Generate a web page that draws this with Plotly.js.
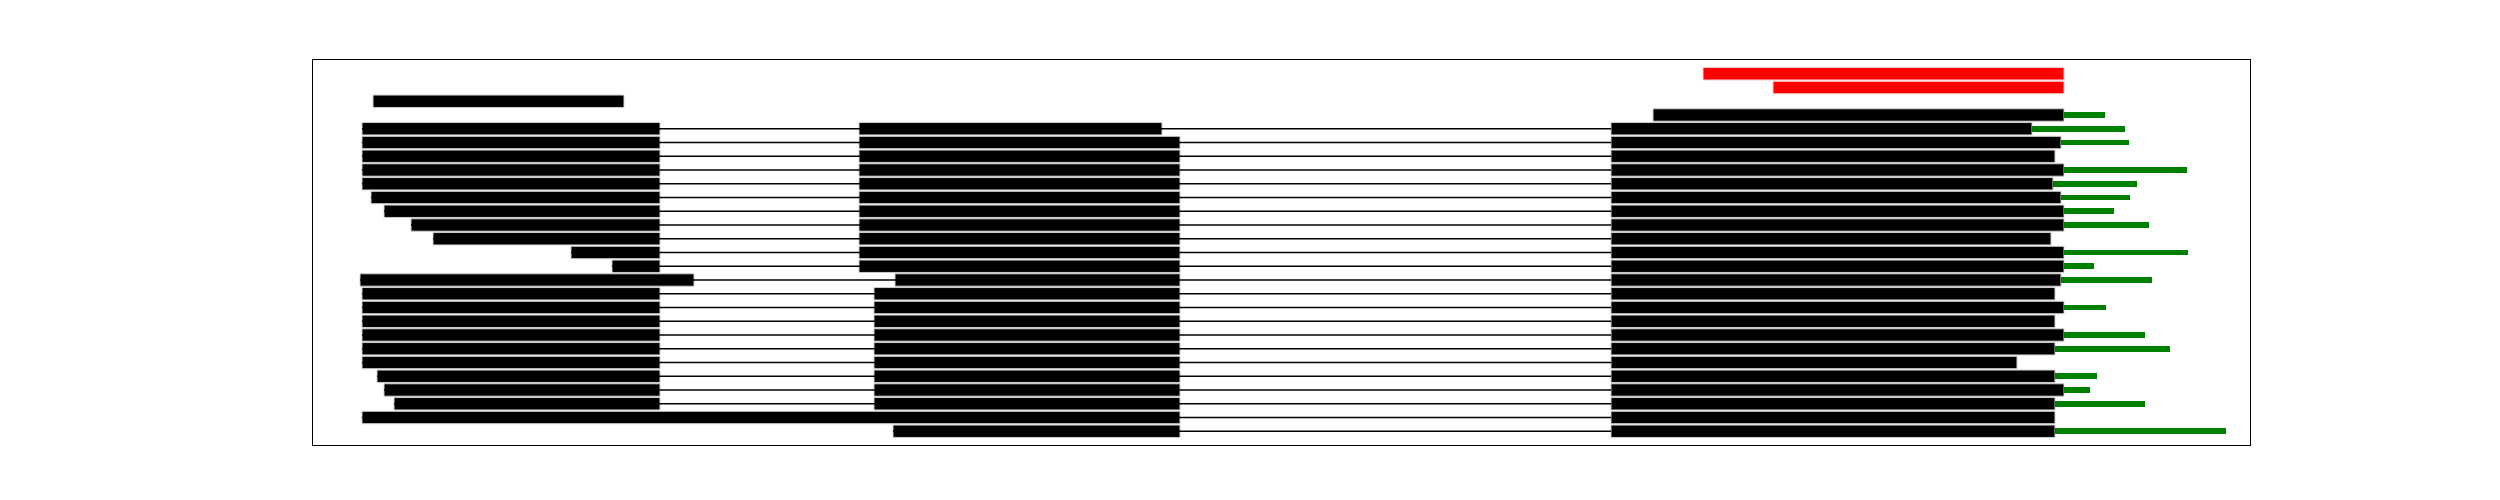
<!DOCTYPE html>
<html>
<head>
<meta charset="utf-8">
<script src="https://cdn.plot.ly/plotly-3.0.1.min.js"></script>
<style>html,body{margin:0;padding:0;background:#fff;}</style>
</head>
<body>
<div id="chart" style="width:2500px;height:500px;"></div>
<script>
// Row index 0 = top row
const rows = Array.from({length: 27}, (_, i) => i);

// Phase 1 (left block)
const leftStart = [null,null,60,null,49,49,49,49,49,58,71,98,120,258,299,47,49,49,49,49,49,49,64,71,81,49,null];
const leftEnd   = [null,null,311,null,347,347,347,347,347,347,347,347,347,347,347,381,347,347,347,347,347,347,347,347,347,867,null];

// Phase 2 (middle block)
const midStart = [null,null,null,null,546,546,546,546,546,546,546,546,546,546,546,582,561,561,561,561,561,561,561,561,561,null,580];
const midEnd   = [null,null,null,null,849,867,867,867,867,867,867,867,867,867,867,867,867,867,867,867,867,867,867,867,867,null,867];

// Phase 3 (right block)
const rightStart = [null,null,null,1340,1298,1298,1298,1298,1298,1298,1298,1298,1298,1298,1298,1298,1298,1298,1298,1298,1298,1298,1298,1298,1298,1298,1298];
const rightEnd   = [null,null,null,1751,1719,1748,1742,1751,1740,1748,1751,1751,1738,1751,1751,1748,1742,1751,1742,1751,1742,1704,1742,1751,1742,1742,1742];

// Highlighted (red) rows
const redStart = [1390,1460,null,null,null,null,null,null,null,null,null,null,null,null,null,null,null,null,null,null,null,null,null,null,null,null,null];
const redEnd   = [1751,1751,null,null,null,null,null,null,null,null,null,null,null,null,null,null,null,null,null,null,null,null,null,null,null,null,null];

// Extension (green) end; starts at rightEnd
const greenEnd = [null,null,null,1792,1812,1816,null,1874,1824,1817,1801,1836,null,1875,1781,1839,null,1793,null,1832,1857,null,1784,1777,1832,null,1913];

function barTrace(starts, ends, color, width, edge) {
  const y = [], base = [], x = [];
  rows.forEach(i => {
    if (starts[i] != null && ends[i] != null) {
      y.push(i); base.push(starts[i]); x.push(ends[i] - starts[i]);
    }
  });
  return {
    type: 'bar', orientation: 'h', y: y, base: base, x: x, width: width,
    marker: {color: color, line: {color: edge || color, width: edge ? 1 : 0}},
    hoverinfo: 'skip', showlegend: false
  };
}

// connector lines
const lx = [], ly = [];
rows.forEach(i => {
  const firsts = [leftStart[i], midStart[i]].filter(v => v != null);
  if (firsts.length && rightStart[i] != null) {
    lx.push(Math.min(...firsts), rightStart[i], null);
    ly.push(i, i, null);
  }
});

const traces = [
  {type: 'scatter', mode: 'lines', x: lx, y: ly, line: {color: '#000', width: 1.6},
   hoverinfo: 'skip', showlegend: false, connectgaps: false},
  barTrace(leftStart, leftEnd, '#000000', 0.9, '#cfcfcf'),
  barTrace(midStart, midEnd, '#000000', 0.9, '#cfcfcf'),
  barTrace(rightStart, rightEnd, '#000000', 0.9, '#cfcfcf'),
  barTrace(redStart, redEnd, '#ff0000', 0.9, '#f4c8c8'),
  barTrace(rightEnd.map((v, i) => greenEnd[i] != null ? v : null), greenEnd, '#008000', 0.42, null)
];

const layout = {
  width: 2500, height: 500,
  margin: {l: 313, r: 250, t: 60, b: 55, pad: 0},
  paper_bgcolor: '#fff', plot_bgcolor: '#fff',
  barmode: 'overlay', bargap: 0,
  xaxis: {range: [0, 1937], showgrid: false, zeroline: false, showticklabels: false, ticks: '',
          showline: true, mirror: true, linecolor: '#000', linewidth: 1.3},
  yaxis: {range: [27, -1], showgrid: false, zeroline: false, showticklabels: false, ticks: '',
          showline: true, mirror: true, linecolor: '#000', linewidth: 1.3},
  showlegend: false
};

Plotly.newPlot('chart', traces, layout, {staticPlot: true});
</script>
</body>
</html>
